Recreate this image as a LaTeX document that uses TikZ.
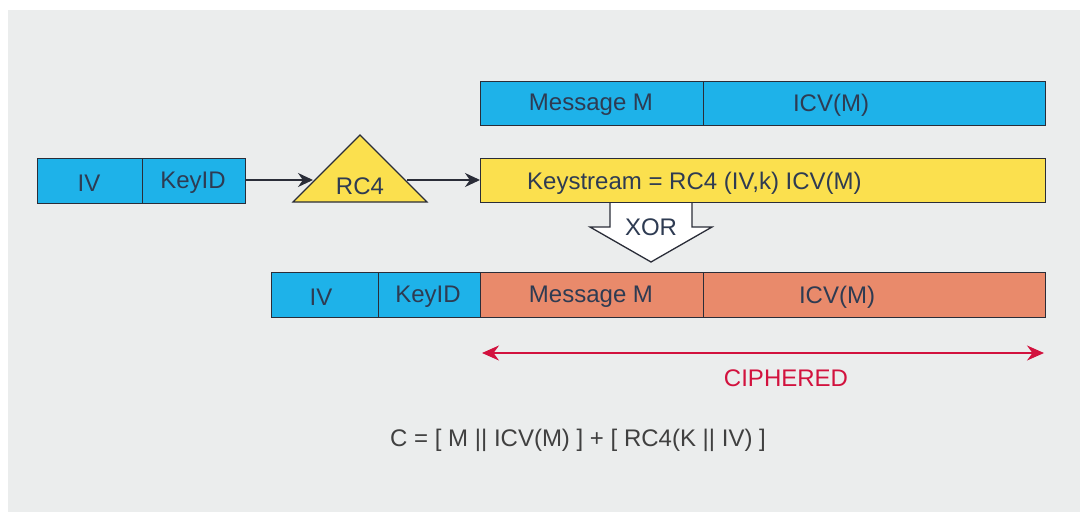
\documentclass[tikz,border=0pt]{standalone}
\usepackage{fontspec}
\setmainfont{Liberation Sans}
\usetikzlibrary{arrows.meta}
\definecolor{panel}{HTML}{EBEDED}
\definecolor{fieldblue}{HTML}{1EB2E9}
\definecolor{keyyellow}{HTML}{FBE04E}
\definecolor{cipher}{HTML}{E98A6B}
\definecolor{edge}{HTML}{2A2D38}
\definecolor{ink}{HTML}{2E3B52}
\definecolor{alert}{HTML}{D2123E}
\tikzset{
  field/.style={draw=edge, line width=1.4pt, inner sep=0pt, anchor=north west},
  lbl/.style={text=ink, font=\fontsize{24}{24}\selectfont, inner sep=0pt, yshift=-2pt},
  flow/.style={draw=edge, line width=1.3pt, -{Stealth[length=15pt,width=14pt]}},
}
\begin{document}
\begin{tikzpicture}[x=1pt,y=-1pt]
\useasboundingbox (0,0) rectangle (1080,512);
\fill[white] (0,0) rectangle (1080,512);
\fill[panel] (8,10) rectangle (1080,512);

% plaintext and its check value
\node[field, fill=fieldblue, minimum width=223pt, minimum height=44pt] (msg) at (480,81) {};
\node[field, fill=fieldblue, minimum width=342pt, minimum height=44pt] (icv) at (703,81) {};
\node[lbl] at (591,103) {Message M};
\node[lbl] at (831,103) {ICV(M)};

% key material
\node[field, fill=fieldblue, minimum width=105pt, minimum height=45pt] (iv) at (37,158) {};
\node[field, fill=fieldblue, minimum width=103pt, minimum height=45pt] (kid) at (142,158) {};
\node[lbl] at (89,181) {IV};
\node[lbl] at (193,181) {KeyID};

% RC4 generator
\draw[edge, fill=keyyellow, line width=1.2pt] (360,135) -- (427,202) -- (293,202) -- cycle;
\coordinate (rc4in) at (313,180);
\coordinate (rc4out) at (407,180);
\node[lbl] (rc4) at (360,184) {RC4};

% XOR step (drawn first so the keystream box covers its top)
\fill[white] (610,200) -- (610,227) -- (590,227) -- (651,262) -- (712,227) -- (692,227) -- (692,200) -- cycle;
\draw[edge, line width=1.3pt, line join=miter] (610,202) -- (610,227) -- (590,227) -- (651,262) -- (712,227) -- (692,227) -- (692,202);
\node[lbl] (xor) at (651,225) {XOR};

% keystream
\node[field, fill=keyyellow, minimum width=565pt, minimum height=44pt] (ks) at (480,158) {};
\node[lbl, anchor=west] at (527,181) {Keystream = RC4 (IV,k) ICV(M)};

\draw[flow] (kid.east |- 0,180) -- (rc4in);
\draw[flow] (rc4out) -- (ks.west |- 0,180);

% transmitted frame
\node[field, fill=fieldblue, minimum width=107pt, minimum height=45pt] (iv2) at (271,272) {};
\node[field, fill=fieldblue, minimum width=102pt, minimum height=45pt] (kid2) at (378,272) {};
\node[field, fill=cipher, minimum width=223pt, minimum height=45pt] (msg2) at (480,272) {};
\node[field, fill=cipher, minimum width=342pt, minimum height=45pt] (icv2) at (703,272) {};
\node[lbl] at (321,295) {IV};
\node[lbl] at (428,295) {KeyID};
\node[lbl] at (591,295) {Message M};
\node[lbl] at (837,295) {ICV(M)};

% ciphered span
\coordinate (cl) at (482,353);
\coordinate (cr) at (1044,353);
\draw[alert, line width=1.6pt, {Stealth[length=17pt,width=15pt]}-{Stealth[length=17pt,width=15pt]}] (cl) -- (cr);
\node[lbl, text=alert] at (786,376) {CIPHERED};

\node[lbl, text=black!75] at (578,438) {C = [ M || ICV(M) ] + [ RC4(K || IV) ]};
\end{tikzpicture}
\end{document}
